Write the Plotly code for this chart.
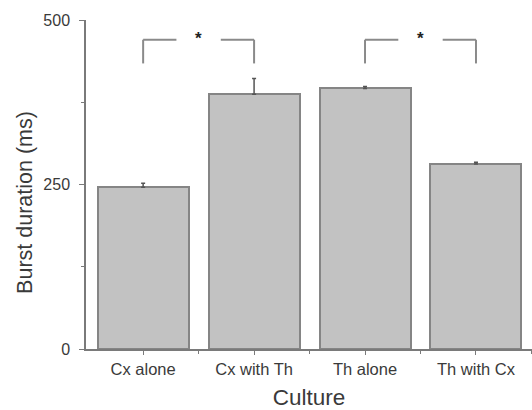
import plotly.graph_objects as go

categories = ["Cx alone", "Cx with Th", "Th alone", "Th with Cx"]
burst_ms = [246, 387, 396, 281]
sem_ms = [6, 24, 3, 3]
y_ticks = [0, 250, 500]
comparisons = [(0, 1), (2, 3)]
bracket_top = 470
bracket_bottom = 434

xs = list(range(len(categories)))
axis_col = "#7a7a7a"
txt_col = "#3a3a3a"
fam = "Liberation Sans, Arial, sans-serif"

fig = go.Figure()
fig.add_trace(go.Bar(
    x=xs, y=burst_ms, width=0.82,
    marker=dict(color="#c2c2c2", line=dict(color="#858585", width=2)),
    error_y=dict(type="data", array=sem_ms, symmetric=False, arrayminus=[0]*4,
                 color="#555555", thickness=1.5, width=2),
    showlegend=False,
))

shapes = []
annotations = []
for a, b in comparisons:
    gap = 0.2
    mid = (a + b) / 2
    segs = [
        (a, bracket_bottom, a, bracket_top),
        (a, bracket_top, mid - gap, bracket_top),
        (mid + gap, bracket_top, b, bracket_top),
        (b, bracket_top, b, bracket_bottom),
    ]
    for x0, y0, x1, y1 in segs:
        shapes.append(dict(type="line", xref="x", yref="y", x0=x0, y0=y0, x1=x1, y1=y1,
                           line=dict(color="#8a8a8a", width=2)))
    annotations.append(dict(x=mid, y=bracket_top + 2, xref="x", yref="y", text="<b>*</b>",
                            showarrow=False, font=dict(size=17, color="#222222", family=fam),
                            yanchor="middle"))

annotations.append(dict(x=0, xref="paper", xshift=-61, y=222, yref="y",
                        text="Burst duration (ms)", textangle=-90, showarrow=False,
                        font=dict(size=21.5, color=txt_col, family=fam),
                        xanchor="center", yanchor="middle"))

fig.update_layout(
    width=532, height=410,
    margin=dict(l=86, r=0, t=20, b=61),
    paper_bgcolor="white", plot_bgcolor="white",
    shapes=shapes, annotations=annotations,
    font=dict(family=fam, color=txt_col),
    bargap=0,
)
fig.update_xaxes(
    range=[-0.515, 3.505], tickmode="array", tickvals=xs, ticktext=categories,
    showline=True, linecolor=axis_col, linewidth=1.5, ticks="outside", ticklen=4,
    tickcolor=axis_col, tickfont=dict(size=16.5, color=txt_col, family=fam),
    minor=dict(tickmode="array", tickvals=[0.5, 1.5, 2.5, 3.5], ticks="outside", ticklen=3, tickcolor=axis_col),
    title=dict(text="Culture", font=dict(size=22.5, color=txt_col, family=fam), standoff=13),
    showgrid=False, zeroline=False, automargin=False,
)
fig.update_yaxes(
    range=[0, 500], tickmode="array", tickvals=y_ticks,
    showline=True, linecolor=axis_col, linewidth=1.5, ticks="outside", ticklen=5,
    tickcolor=axis_col, tickfont=dict(size=16, color=txt_col, family=fam),
    ticklabelstandoff=6,
    minor=dict(tickmode="array", tickvals=[125, 375], ticks="outside", ticklen=3, tickcolor=axis_col),
    showgrid=False, zeroline=False, automargin=False,
)
fig.write_html("out.html")
